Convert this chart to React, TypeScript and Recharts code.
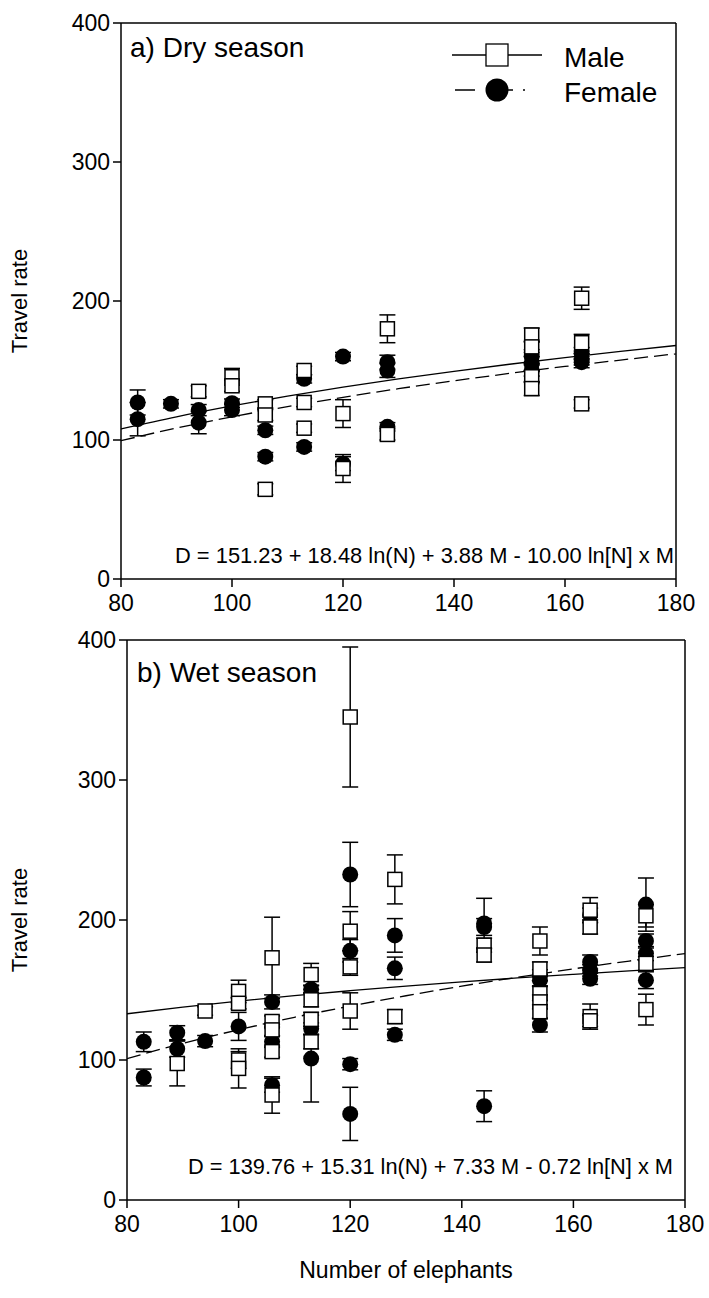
import React from "react";
import {
  ComposedChart,
  Scatter,
  Line,
  XAxis,
  YAxis,
  ErrorBar,
  ReferenceLine,
} from "recharts";

const FONT = '"Liberation Sans", Arial, sans-serif';

const X_TICKS = [80, 100, 120, 140, 160, 180];
const Y_TICKS = [0, 100, 200, 300, 400];

// [number of elephants, travel rate, error]
const dryMale: [number, number, number][] = [
  [94, 135, 4], [100, 145.5, 6], [100, 139, 4],
  [106, 126, 3], [106, 118, 4], [106, 64.5, 4],
  [113, 150, 3], [113, 127, 3], [113, 108.5, 3],
  [120, 119, 10], [120, 79.5, 10],
  [128, 180, 10], [128, 104, 4],
  [154, 175.5, 5], [154, 167, 4], [154, 145.5, 4], [154, 137, 5],
  [163, 202, 8], [163, 170, 6], [163, 126, 3],
];
const dryFemale: [number, number, number][] = [
  [83, 127, 9], [83, 115, 12], [89, 126, 3],
  [94, 121.5, 4], [94, 112.5, 8], [100, 126.5, 3], [100, 121.5, 4],
  [106, 107, 3], [106, 88, 3], [113, 144, 3], [113, 95, 3],
  [120, 160, 3], [120, 83, 5],
  [128, 156, 5], [128, 150, 5], [128, 109.5, 3],
  [154, 160, 5], [154, 155, 5], [154, 150, 4],
  [163, 162.5, 4], [163, 158, 4], [163, 156, 4],
];
const wetMale: [number, number, number][] = [
  [89, 97.5, 16], [94, 135, 3],
  [100, 149, 8], [100, 140.5, 4], [100, 100, 6], [100, 94, 14],
  [106, 173, 29], [106, 127.5, 4], [106, 121.5, 4], [106, 106, 4], [106, 75, 13],
  [113, 161, 8], [113, 143, 5], [113, 129, 5], [113, 113, 5],
  [120, 345, 50], [120, 192, 14], [120, 166.5, 6], [120, 135, 13],
  [128, 229, 17.5], [128, 131, 5],
  [144, 182, 5], [144, 175, 5],
  [154, 185, 10], [154, 165, 5], [154, 147.5, 5], [154, 141.5, 5], [154, 134.5, 5],
  [163, 207, 9], [163, 195, 5], [163, 131, 9], [163, 128, 4],
  [173, 203, 8], [173, 169, 5], [173, 136, 11],
];
const wetFemale: [number, number, number][] = [
  [83, 113, 7], [83, 87.5, 6], [89, 119.5, 5], [89, 108, 6],
  [94, 113.5, 4], [100, 124, 10],
  [106, 141.5, 5], [106, 113, 4], [106, 82, 5],
  [113, 150.5, 3], [113, 122.5, 4], [113, 101, 31],
  [120, 232.5, 23], [120, 178, 8], [120, 97, 4], [120, 61.5, 19],
  [128, 189, 12], [128, 165.5, 8], [128, 118, 4],
  [144, 197.5, 18], [144, 195, 6], [144, 67, 11],
  [154, 160.5, 4], [154, 157, 4], [154, 125, 5],
  [163, 203.5, 5], [163, 170, 5], [163, 164, 4], [163, 158, 4],
  [173, 211, 19], [173, 185, 5], [173, 176, 5], [173, 157, 6],
];

// fitted curves
const FIT_X = [80, 90, 100, 110, 120, 130, 140, 150, 160, 170, 180];
const dryMaleFit = [108, 116.7, 124.5, 131.6, 138, 143.9, 149.4, 154.5, 159.3, 163.8, 168];
const dryFemaleFit = [99.5, 108.6, 116.7, 124, 130.7, 136.9, 142.6, 147.9, 152.9, 157.5, 162];
const wetMaleFit = [133, 137.8, 142.1, 146, 149.5, 152.8, 155.8, 158.6, 161.2, 163.7, 166];
const wetFemaleFit = [101, 111.9, 121.6, 130.5, 138.5, 145.9, 152.8, 159.1, 165.1, 170.7, 176];

const toPts = (rows: [number, number, number][]) =>
  rows.map(([x, y, e]) => ({ x, y, e }));
const toFit = (ys: number[]) => FIT_X.map((x, i) => ({ x, y: ys[i] }));

const SquareDot = (p: any) => (
  <rect x={p.cx - 7} y={p.cy - 7} width={14} height={14} fill="#fff" stroke="#000" strokeWidth={1.5} />
);
const CircleDot = (p: any) => <circle cx={p.cx} cy={p.cy} r={8} fill="#000" />;

interface PanelProps {
  male: [number, number, number][];
  female: [number, number, number][];
  maleFit: number[];
  femaleFit: number[];
  height: number;
  margin: { top: number; right: number; left: number; bottom: number };
  yWidth: number;
  xHeight: number;
  xLabel?: string;
}

const Panel = ({ male, female, maleFit, femaleFit, height, margin, yWidth, xHeight, xLabel }: PanelProps) => {
  const tick = { fill: "#000", fontSize: 23, fontFamily: FONT };
  return (
    <ComposedChart width={709} height={height} margin={margin}>
      <XAxis
        type="number"
        dataKey="x"
        domain={[80, 180]}
        ticks={X_TICKS}
        tick={tick}
        tickSize={8}
        tickMargin={8}
        height={xHeight}
        stroke="#000"
        strokeWidth={1.5}
        allowDataOverflow
        label={
          xLabel
            ? { value: xLabel, position: "insideBottom", offset: 20, fill: "#000", fontSize: 23, fontFamily: FONT }
            : undefined
        }
      />
      <YAxis
        type="number"
        dataKey="y"
        domain={[0, 400]}
        ticks={Y_TICKS}
        tick={tick}
        tickSize={8}
        tickMargin={3}
        width={yWidth}
        stroke="#000"
        strokeWidth={1.5}
        allowDataOverflow
      />
      <ReferenceLine y={400} stroke="#000" strokeWidth={1.5} />
      <ReferenceLine x={180} stroke="#000" strokeWidth={1.5} />
      <Line data={toFit(maleFit)} dataKey="y" type="monotone" stroke="#000" strokeWidth={1.3} dot={false} isAnimationActive={false} />
      <Line data={toFit(femaleFit)} dataKey="y" type="monotone" stroke="#000" strokeWidth={1.3} strokeDasharray="14 6" dot={false} isAnimationActive={false} />
      <Scatter data={toPts(female)} dataKey="y" shape={CircleDot} isAnimationActive={false}>
        <ErrorBar dataKey="e" direction="y" width={8} stroke="#000" strokeWidth={1.5} />
      </Scatter>
      <Scatter data={toPts(male)} dataKey="y" shape={SquareDot} isAnimationActive={false}>
        <ErrorBar dataKey="e" direction="y" width={8} stroke="#000" strokeWidth={1.5} />
      </Scatter>
    </ComposedChart>
  );
};

export default function App() {
  return (
    <div style={{ position: "absolute", left: 0, top: 0, width: 709, height: 1298, background: "#fff" }}>
      <div style={{ position: "absolute", left: 0, top: 0 }}>
        <Panel
          male={dryMale}
          female={dryFemale}
          maleFit={dryMaleFit}
          femaleFit={dryFemaleFit}
          height={620}
          margin={{ top: 23, right: 33, left: 0, bottom: 0 }}
          yWidth={121}
          xHeight={41}
        />
      </div>
      <div style={{ position: "absolute", left: 0, top: 620 }}>
        <Panel
          male={wetMale}
          female={wetFemale}
          maleFit={wetMaleFit}
          femaleFit={wetFemaleFit}
          height={678}
          margin={{ top: 20, right: 24, left: 0, bottom: 0 }}
          yWidth={127}
          xHeight={98}
          xLabel="Number of elephants"
        />
      </div>
      <svg
        width={709}
        height={1298}
        style={{ position: "absolute", left: 0, top: 0, pointerEvents: "none" }}
        fontFamily={FONT}
      >
        <text x={130} y={57} fontSize={28}>a) Dry season</text>
        <text x={137} y={682} fontSize={28}>b) Wet season</text>
        <text transform="translate(27,301) rotate(-90)" textAnchor="middle" fontSize={22}>Travel rate</text>
        <text transform="translate(27,920) rotate(-90)" textAnchor="middle" fontSize={22}>Travel rate</text>
        <text x={175} y={563} fontSize={22} textLength={499} lengthAdjust="spacingAndGlyphs">
          D = 151.23 + 18.48 ln(N) + 3.88 M - 10.00 ln[N] x M
        </text>
        <text x={188} y={1174} fontSize={22} textLength={485} lengthAdjust="spacingAndGlyphs">
          D = 139.76 + 15.31 ln(N) + 7.33 M - 0.72 ln[N] x M
        </text>
        <line x1={452} y1={55} x2={542} y2={55} stroke="#000" strokeWidth={1.3} />
        <rect x={486} y={44} width={22} height={22} fill="#fff" stroke="#000" strokeWidth={1.3} />
        <text x={564} y={67} fontSize={28}>Male</text>
        <line x1={455} y1={90} x2={543} y2={90} stroke="#000" strokeWidth={1.3} strokeDasharray="20 18 20 10 2 20" />
        <circle cx={497} cy={90} r={11.5} fill="#000" />
        <text x={564} y={102} fontSize={28}>Female</text>
      </svg>
    </div>
  );
}
